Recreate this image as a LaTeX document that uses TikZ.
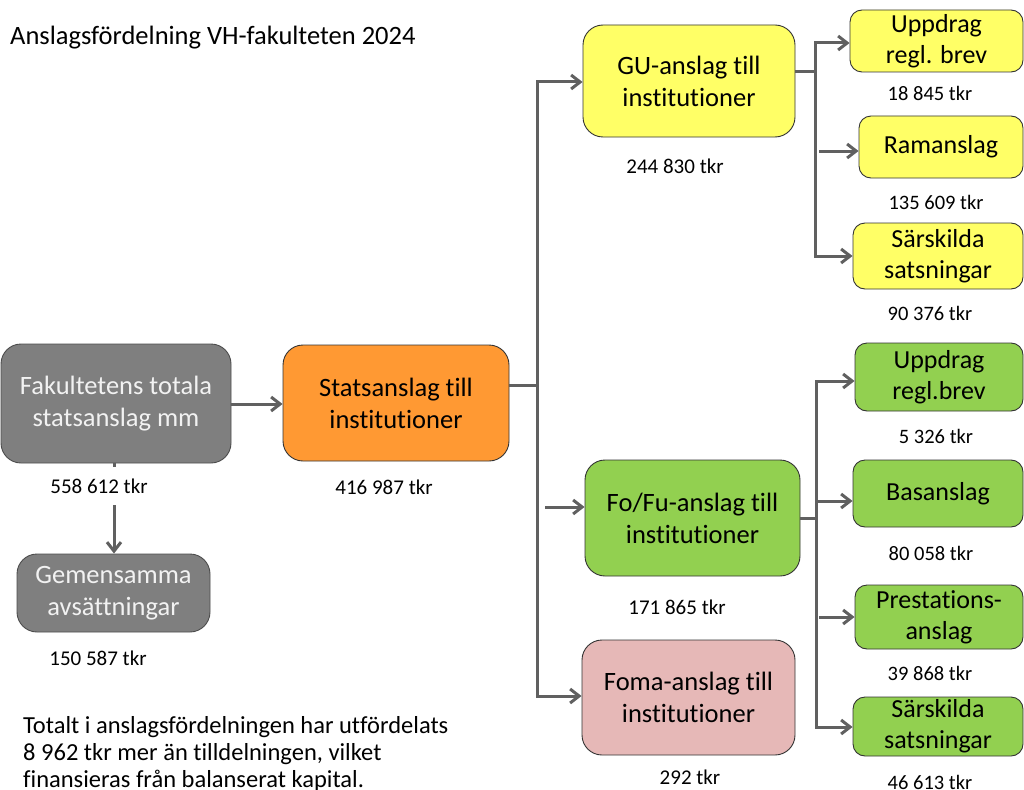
\documentclass[tikz,border=0pt]{standalone}
\usepackage{fontspec}
\setmainfont{Carlito}[Ligatures=NoCommon]
\usetikzlibrary{arrows.meta}
\definecolor{conncol}{HTML}{606060}
\definecolor{boxgray}{HTML}{7F7F7F}
\definecolor{boxorange}{HTML}{FF9933}
\definecolor{boxyellow}{HTML}{FFFF66}
\definecolor{boxgreen}{HTML}{92D050}
\definecolor{boxpink}{HTML}{E6B8B7}
\definecolor{lighttext}{HTML}{F2F2F2}
\tikzset{
  box/.style={draw=black!80, line width=0.9pt, rounded corners=20pt, align=center, inner sep=0pt,
    font=\fontsize{26.5}{32}\selectfont},
  sbox/.style={box, rounded corners=12pt, font=\fontsize{26}{31}\selectfont},
  graybox/.style={box, fill=boxgray, draw=black!70, text=lighttext},
  amt/.style={font=\fontsize{21}{25}\selectfont, inner sep=0pt},
  samt/.style={font=\fontsize{20.5}{24}\selectfont, inner sep=0pt},
  foot/.style={anchor=base west, inner sep=0pt, font=\fontsize{24.5}{27}\selectfont},
  conn/.style={draw=conncol, line width=3pt},
  arr/.style={conn, -{Straight Barb[length=9pt,width=14pt]}},
}
\begin{document}
\begin{tikzpicture}[x=1pt,y=-1pt]
\useasboundingbox (0,0) rectangle (1024,789);

% title
\node[anchor=base west, inner sep=0pt, font=\fontsize{26.5}{30}\selectfont] (title) at (10,45) {Anslagsfördelning VH-fakulteten 2024};

% left boxes
\node[graybox, minimum width=230pt, minimum height=119pt] (fak) at (116,403.5) {Fakultetens totala\\statsanslag mm};
\node[graybox, minimum width=193pt, minimum height=78pt] (gem) at (113.5,593) {Gemensamma\\avsättningar};
\node[box, fill=boxorange, minimum width=226pt, minimum height=116pt] (stat) at (396,403) {Statsanslag till\\institutioner};

% middle boxes
\node[box, fill=boxyellow, minimum width=212pt, minimum height=112pt] (gu) at (689,81) {GU-anslag till\\institutioner};
\node[box, fill=boxgreen, minimum width=215pt, minimum height=116pt] (fofu) at (692.5,518) {Fo/Fu-anslag till\\institutioner};
\node[box, fill=boxpink, minimum width=213pt, minimum height=115pt] (foma) at (688.5,697.5) {Foma-anslag till\\institutioner};

% right boxes (yellow)
\node[sbox, fill=boxyellow, minimum width=173pt, minimum height=62pt] (yu) at (936.5,41) {Uppdrag\\regl. brev};
\node[sbox, fill=boxyellow, minimum width=164pt, minimum height=62pt] (ram) at (941,147) {Ramanslag};
\node[sbox, fill=boxyellow, minimum width=170pt, minimum height=66pt] (ys) at (938,256) {Särskilda\\satsningar};

% right boxes (green)
\node[sbox, fill=boxgreen, minimum width=168pt, minimum height=68pt] (gu2) at (939,377) {Uppdrag\\regl.brev};
\node[sbox, fill=boxgreen, minimum width=170pt, minimum height=67pt] (bas) at (938,493.5) {Basanslag};
\node[sbox, fill=boxgreen, minimum width=168pt, minimum height=64pt] (pre) at (939,617) {Prestations-\\anslag};
\node[sbox, fill=boxgreen, minimum width=170pt, minimum height=59pt] (gs) at (938,726.5) {Särskilda\\satsningar};

% connectors
\draw[arr] (fak.east |- 0,404) -- (stat.west |- 0,404);
\draw[arr] (fak.south -| 114,0) -- (gem.north -| 114,0);

\coordinate (j1) at (537,385);
\draw[conn] (stat.east |- j1) -- (j1);
\draw[arr] (j1) |- (gu.west |- 0,82);
\draw[arr] (j1) |- (foma.west |- 0,696);
\coordinate (f1) at (545,507);
\draw[arr] (f1) -- (fofu.west |- f1);

\coordinate (j2) at (815,72);
\draw[conn] (gu.east |- j2) -- (j2);
\draw[arr] (j2) |- (yu.west |- 0,43);
\draw[arr] (j2) |- (ys.west |- 0,256);
\coordinate (r1) at (819,151);
\draw[arr] (r1) -- (ram.west |- r1);

\coordinate (j3) at (816,518);
\draw[conn] (fofu.east |- j3) -- (j3);
\draw[arr] (j3) |- (gu2.west |- 0,381);
\draw[arr] (j3) |- (gs.west |- 0,727);
\coordinate (b1) at (816,501);
\draw[arr] (b1) -- (bas.west |- b1);
\coordinate (p1) at (819,617);
\draw[arr] (p1) -- (pre.west |- p1);

% amounts
\node[amt, fill=white, minimum height=38pt] (afak) at (99,486) {558 612 tkr};
\node[amt] (agem) at (98,658) {150 587 tkr};
\node[amt] (astat) at (384,487) {416 987 tkr};
\node[amt] (agu) at (675,166) {244 830 tkr};
\node[amt] (afofu) at (677,607) {171 865 tkr};
\node[amt] (afoma) at (690,777) {292 tkr};
\node[samt] (ayu) at (930,93) {18 845 tkr};
\node[samt] (aram) at (936,202) {135 609 tkr};
\node[samt] (ays) at (930,313) {90 376 tkr};
\node[samt] (agu2) at (936,436) {5 326 tkr};
\node[samt] (abas) at (931,553) {80 058 tkr};
\node[samt] (apre) at (930,673) {39 868 tkr};
\node[samt] (ags) at (930,782) {46 613 tkr};

% footer
\node[foot] (foot1) at (23,733) {Totalt i anslagsfördelningen har utfördelats};
\node[foot] (foot2) at (23,760) {8 962 tkr mer än tilldelningen, vilket};
\node[foot] (foot3) at (23,787) {finansieras från balanserat kapital.};
\end{tikzpicture}
\end{document}
